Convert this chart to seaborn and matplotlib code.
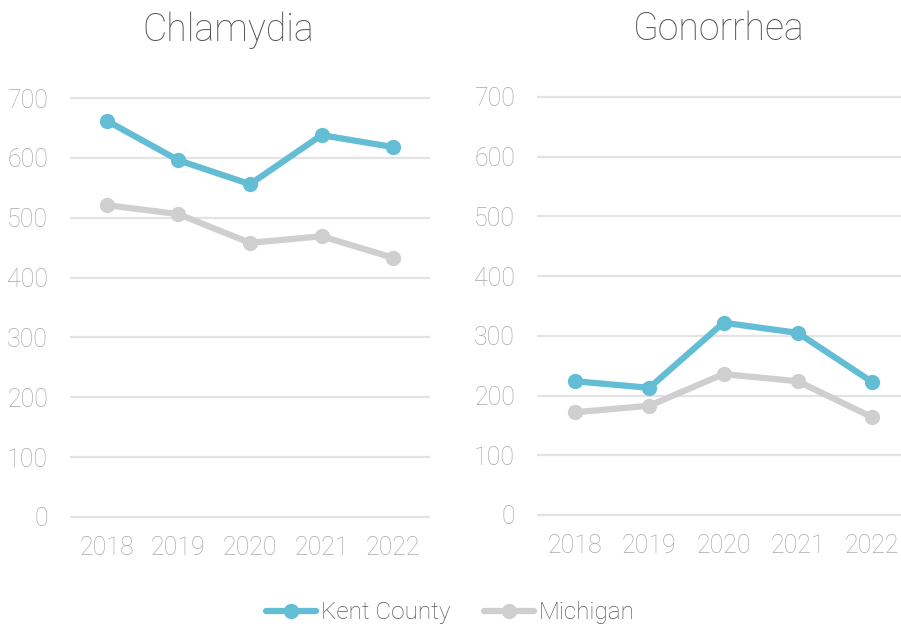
import matplotlib
matplotlib.use("Agg")
import matplotlib.pyplot as plt
import seaborn as sns
import pandas as pd
from matplotlib.lines import Line2D

years = ["2018", "2019", "2020", "2021", "2022"]
chlamydia_kent = [662, 596, 556, 638, 618]
chlamydia_michigan = [521, 506, 458, 469, 433]
gonorrhea_kent = [224, 213, 322, 305, 223]
gonorrhea_michigan = [172, 183, 236, 224, 164]
y_ticks = [0, 100, 200, 300, 400, 500, 600, 700]
series_names = ["Kent County", "Michigan"]

sns.set_theme(style="white")
plt.rcParams["font.family"] = ["Roboto", "DejaVu Sans"]

KENT = "#62BDD5"
MICH = "#D0CFCF"
TICK = "#A8A8A8"
TEXT = "#555555"
GRID = "#E3E3E3"
palette = {"Kent County": KENT, "Michigan": MICH}

fig = plt.figure(figsize=(9.01, 6.27), dpi=100)
ax_left = fig.add_axes([71 / 901, 1 - 517 / 627, 358 / 901, 419 / 627])
ax_right = fig.add_axes([538 / 901, 1 - 515 / 627, 371 / 901, 418 / 627])


def draw_panel(ax, title, kent, mich, title_x):
    df = pd.DataFrame({
        "year": years * 2,
        "rate": list(kent) + list(mich),
        "area": ["Kent County"] * len(years) + ["Michigan"] * len(years),
    })
    df["x"] = df["year"].map({y: i for i, y in enumerate(years)})
    sns.lineplot(data=df, x="x", y="rate", hue="area", hue_order=series_names[::-1],
                 palette=palette, marker="o", markersize=11, linewidth=4.5,
                 markeredgewidth=0, ax=ax, legend=False, zorder=3)
    ax.set_xlim(-0.5, len(years) - 0.5)
    ax.set_ylim(0, 700)
    ax.set_xticks(range(len(years)))
    ax.set_xticklabels(years)
    ax.set_yticks(y_ticks)
    ax.set_xlabel("")
    ax.set_ylabel("")
    for s in ax.spines.values():
        s.set_visible(False)
    ax.grid(False)
    for v in y_ticks:
        ax.axhline(v, color=GRID, linewidth=1.6, zorder=1, clip_on=False)
    ax.tick_params(axis="both", length=0, labelsize=18, labelcolor=TICK)
    ax.tick_params(axis="y", pad=16.5)
    ax.tick_params(axis="x", pad=14)
    for lbl in ax.get_xticklabels() + ax.get_yticklabels():
        lbl.set_fontweight("light")
    ax.set_title(title, fontsize=27, color=TEXT, fontweight="light",
                 pad=41, x=title_x)


draw_panel(ax_left, "Chlamydia", chlamydia_kent, chlamydia_michigan, (228 - 71) / 358)
draw_panel(ax_right, "Gonorrhea", gonorrhea_kent, gonorrhea_michigan, (719 - 538) / 371)

handles = [
    Line2D([0], [0], color=KENT, linewidth=4.5, marker="o", markersize=11,
           markeredgewidth=0),
    Line2D([0], [0], color=MICH, linewidth=4.5, marker="o", markersize=11,
           markeredgewidth=0),
]
leg = fig.legend(handles, series_names, loc="center", bbox_to_anchor=(0.5, 1 - 613 / 627),
                 ncol=2, frameon=False, fontsize=17.5, handlelength=2.05,
                 handletextpad=0.2, columnspacing=1.4, borderpad=0)
for t in leg.get_texts():
    t.set_color(TEXT)
    t.set_fontweight("light")

fig.savefig("out.png", dpi=100)
